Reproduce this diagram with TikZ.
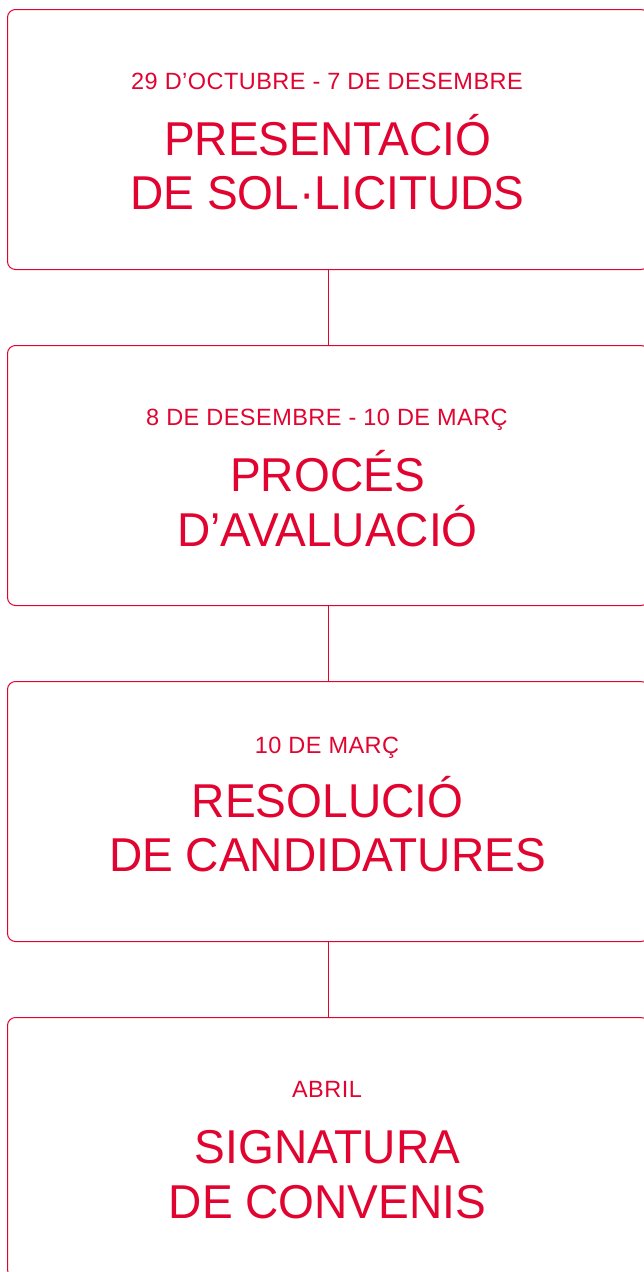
\documentclass[tikz,border=0pt]{standalone}
\usepackage{fontspec}
\newfontfamily\bigfont[FakeStretch=0.97]{Liberation Sans}
\newfontfamily\smallfont[LetterSpace=2]{Liberation Sans}
\definecolor{crim}{RGB}{225,4,48}
\tikzset{
  stepbox/.style={draw=crim, line width=1pt, rounded corners=8pt, minimum width=641.5pt, minimum height=260pt, inner sep=0pt},
  datetext/.style={text=crim, anchor=base, inner sep=0pt, font=\smallfont\fontsize{23.5}{28}\selectfont},
  titletext/.style={text=crim, anchor=base, inner sep=0pt, font=\bigfont\fontsize{47.5}{54}\selectfont},
  link/.style={draw=crim, line width=1pt}
}
\begin{document}
\begin{tikzpicture}[x=1pt,y=-1pt]
\useasboundingbox (0,0) rectangle (644,1272);
\clip (0,0) rectangle (644,1272);
\fill[white] (0,0) rectangle (644,1272);
% boxes
\node[stepbox] (b1) at (328.25,139.5) {};
\node[stepbox] (b2) at (328.25,475.5) {};
\node[stepbox] (b3) at (328.25,811.5) {};
\node[stepbox] (b4) at (328.25,1147.5) {};
% connectors
\draw[link] (b1.south) -- (b2.north);
\draw[link] (b2.south) -- (b3.north);
\draw[link] (b3.south) -- (b4.north);
% texts box 1
\node[datetext] (d1) at (327,89) {29 D’OCTUBRE - 7 DE DESEMBRE};
\node[titletext] (t1a) at (327.5,155) {PRESENTACIÓ};
\node[titletext] (t1b) at (327.5,209) {DE SOL·LICITUDS};
% box 2
\node[datetext] (d2) at (327,425) {8 DE DESEMBRE - 10 DE MARÇ};
\node[titletext] (t2a) at (327.5,491) {PROCÉS};
\node[titletext] (t2b) at (327.5,546.5) {D’AVALUACIÓ};
% box 3
\node[datetext] (d3) at (327,753.5) {10 DE MARÇ};
\node[titletext] (t3a) at (327.5,817.5) {RESOLUCIÓ};
\node[titletext] (t3b) at (327.5,871.5) {DE CANDIDATURES};
% box 4
\node[datetext] (d4) at (327,1097.5) {ABRIL};
\node[titletext] (t4a) at (327.5,1163.5) {SIGNATURA};
\node[titletext] (t4b) at (327.5,1218.5) {DE CONVENIS};
\end{tikzpicture}
\end{document}
